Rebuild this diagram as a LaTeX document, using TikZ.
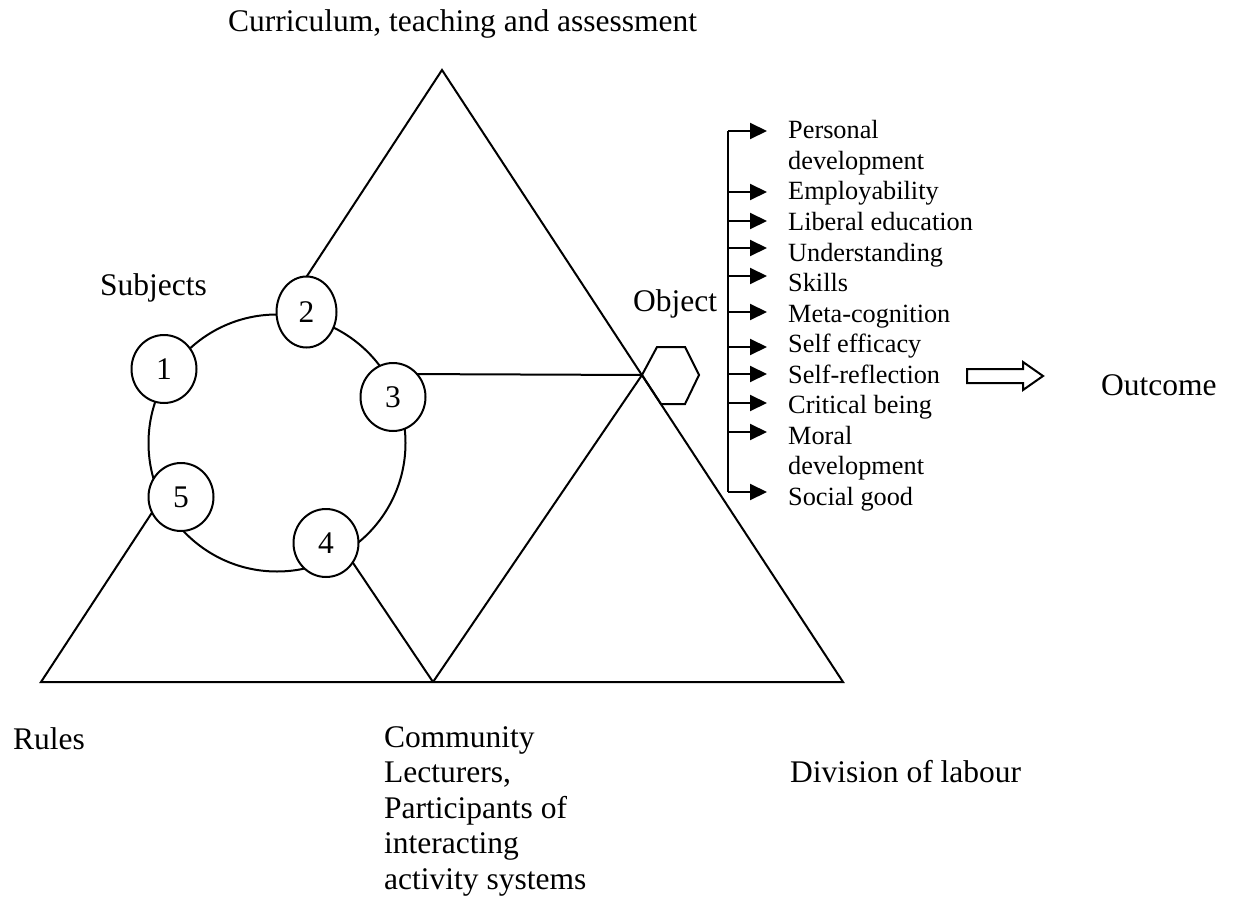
\documentclass[tikz,border=0pt]{standalone}
\usepackage{fontspec}
\setmainfont{Liberation Serif}
\usetikzlibrary{shapes.geometric,arrows.meta}
\newcommand\mlines[1]{\begin{tabular}[t]{@{}l@{}}#1\end{tabular}}
\begin{document}
\begin{tikzpicture}[x=1pt,y=-1pt,
  ln/.style={line width=2pt, line join=miter},
  big/.style={font=\fontsize{31.5}{35.6}\selectfont, inner sep=0pt, anchor=base west},
  item/.style={font=\fontsize{26.3}{30.5}\selectfont, inner sep=0pt, anchor=base west},
  num/.style={ellipse, draw, line width=2pt, fill=white, inner sep=0pt,
    minimum width=65pt, minimum height=68pt, font=\fontsize{31.5}{35.6}\selectfont},
  arr/.style={line width=2pt, -{Triangle[length=17pt,width=16pt]}, shorten >=21pt}]
\useasboundingbox (0,0) rectangle (1236,904);

% triangle geometry
\coordinate (A) at (442,70);
\coordinate (L) at (41,682);
\coordinate (R) at (843,682);
\coordinate (M) at (433,682);
\coordinate (H) at (642,375);
\coordinate (c4in) at (345,551);
\coordinate (c3in) at (400,374);

\draw[ln] (L) -- (A) -- (R) -- cycle;
\draw[ln] (M) -- (H);
\draw[ln] (M) -- (c4in);
\draw[ln] (c3in) -- (H);

% subjects ring and circles
\node[circle, draw, line width=2pt, fill=white, minimum size=257pt, inner sep=0pt] (ring) at (277,443) {};
\node[num] (c1) at (164,369) {1};
\node[num, minimum width=60pt, minimum height=71pt] (c2) at (306.5,312) {2};
\node[num] (c3) at (393,397) {3};
\node[num] (c4) at (326,543) {4};
\node[num] (c5) at (181,497) {5};

% object hexagon
\draw[ln] (H) -- (657,347) -- (685,347) -- (699,375) -- (685,404) -- (661,404) -- cycle;

% labels
\node[big] (curr) at (228,32) {Curriculum, teaching and assessment};
\node[big] (subj) at (100,295) {Subjects};
\node[big] (obj) at (633,311) {Object};
\node[big] (outc) at (1101,395) {Outcome};
\node[big] (rules) at (13,749) {Rules};
\node[big] (comm) at (384,747) {\mlines{Community\\Lecturers,\\Participants of\\interacting\\activity systems}};
\node[big] (div) at (790,782) {Division of labour};

% outcome items
\node[item] (i1) at (788,139) {\mlines{Personal\\development}};
\node[item] (i2) at (788,200) {Employability};
\node[item] (i3) at (788,230.5) {Liberal education};
\node[item] (i4) at (788,261) {Understanding};
\node[item] (i5) at (788,291.5) {Skills};
\node[item] (i6) at (788,322) {Meta-cognition};
\node[item] (i7) at (788,352.5) {Self efficacy};
\node[item] (i8) at (788,383) {Self-reflection};
\node[item] (i9) at (788,413.5) {Critical being};
\node[item] (i10) at (788,444) {\mlines{Moral\\development}};
\node[item] (i11) at (788,505) {Social good};

% bracket
\coordinate (b1) at (728,131);
\coordinate (b2) at (728,192);
\coordinate (b3) at (728,221);
\coordinate (b4) at (728,248);
\coordinate (b5) at (728,276);
\coordinate (b6) at (728,312);
\coordinate (b7) at (728,347);
\coordinate (b8) at (728,374);
\coordinate (b9) at (728,403);
\coordinate (b10) at (728,432);
\coordinate (b11) at (728,492);
\draw[ln] (b1) -- (b11);
\foreach \k in {1,...,11}{
  \draw[arr] (b\k) -- (b\k -| i\k.west);
}

% outcome block arrow
\draw[ln] (967,369) -- (1023,369) -- (1023,362) -- (1043,376) -- (1023,390) -- (1023,383) -- (967,383) -- cycle;
\end{tikzpicture}
\end{document}
